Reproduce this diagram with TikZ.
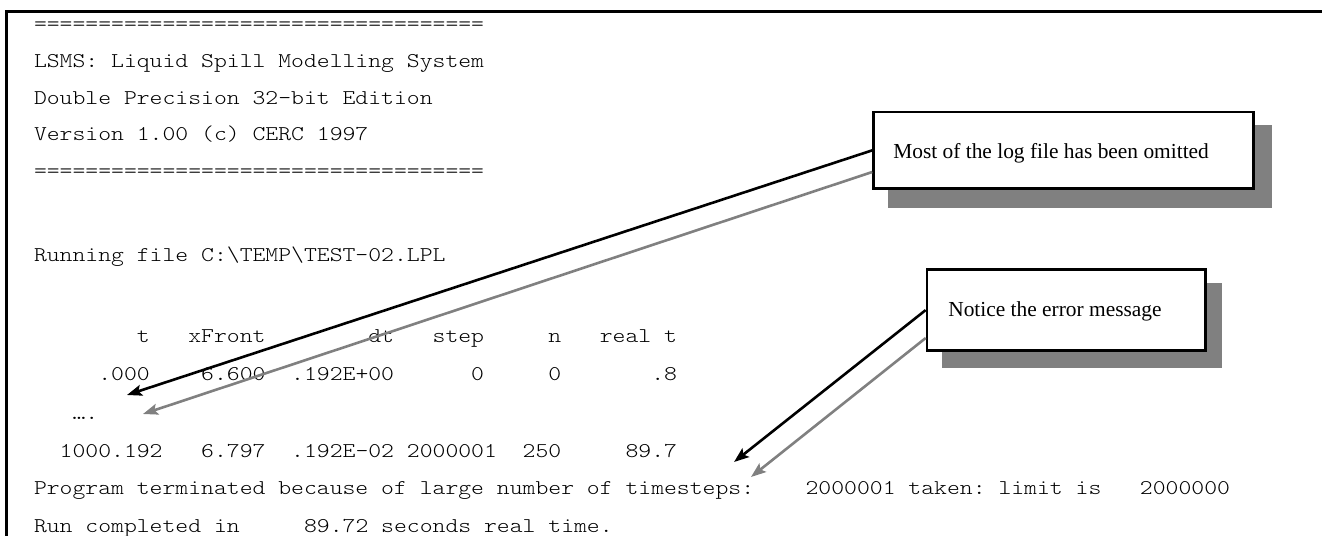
\documentclass[tikz,border=0pt]{standalone}
\usepackage{fontspec}
\setmainfont{Liberation Serif}
\newfontfamily\logmono{lmmonolt10-regular.otf}[FakeStretch=1.1664]
\usetikzlibrary{arrows.meta}
\definecolor{shadowgray}{HTML}{808080}
\definecolor{arrowgray}{HTML}{808080}
\tikzset{
  logtext/.style={anchor=base west, inner sep=0pt, outer sep=0pt,
    font={\logmono\fontsize{21bp}{25bp}\selectfont\frenchspacing}},
  notetext/.style={anchor=base west, inner sep=0pt, outer sep=0pt,
    font={\fontsize{21.4bp}{25bp}\selectfont}},
  notebox/.style={draw=black, line width=2.7bp, fill=white, inner sep=0pt},
  noteshadow/.style={fill=shadowgray, draw=none},
  frameline/.style={draw=black, line width=2.6bp},
  blackarrow/.style={draw=black, line width=2.6bp,
    -{Stealth[length=15bp,width=11bp,inset=3bp]}},
  grayarrow/.style={draw=arrowgray, line width=2.6bp,
    -{Stealth[length=15bp,width=11bp,inset=3bp]}},
}
\newcommand\cx[1]{34+#1*12.86}
\begin{document}
\begin{tikzpicture}[x=1bp,y=-1bp]
\useasboundingbox (0,0) rectangle (1322,536);
% frame
\draw[frameline] (6.5,545) -- (6.5,11.5) -- (1335,11.5);

% log text
\node[logtext] (l1) at ({\cx{0}},31) {===================================};
\node[logtext] (l2) at ({\cx{0}},68) {LSMS: Liquid Spill Modelling System};
\node[logtext] (l3) at ({\cx{0}},104.5) {Double Precision 32-bit Edition};
\node[logtext] (l4) at ({\cx{0}},141) {Version 1.00 (c) CERC 1997};
\node[logtext] (l5) at ({\cx{0}},177.5) {===================================};
\node[logtext] (l6) at ({\cx{0}},262) {Running file C:\textbackslash TEMP\textbackslash TEST-02.LPL};

% header row
\node[logtext] (h1) at ({\cx{8}},342) {t};
\node[logtext] (h2) at ({\cx{12}},342) {xFront};
\node[logtext] (h3) at ({\cx{26}},342) {dt};
\node[logtext] (h4) at ({\cx{31}},342) {step};
\node[logtext] (h5) at ({\cx{40}},342) {n};
\node[logtext] (h6) at ({\cx{44}},342) {real t};

% first data row
\node[logtext] (r1) at ({\cx{5}},380) {.000};
\node[logtext] (r2) at ({\cx{13}},380) {6.600};
\node[logtext] (r3) at ({\cx{20}},380) {.192E+00};
\node[logtext] (r4) at ({\cx{34}},380) {0};
\node[logtext] (r5) at ({\cx{40}},380) {0};
\node[logtext] (r6) at ({\cx{48}},380) {.8};

\node[logtext] (dots) at ({\cx{3}},419) {….};

% last data row
\node[logtext] (s1) at ({\cx{2}},457) {1000.192};
\node[logtext] (s2) at ({\cx{13}},457) {6.797};
\node[logtext] (s3) at ({\cx{20}},457) {.192E-02};
\node[logtext] (s4) at ({\cx{29}},457) {2000001};
\node[logtext] (s5) at ({\cx{38}},457) {250};
\node[logtext] (s6) at ({\cx{46}},457) {89.7};

\node[logtext] (p1) at ({\cx{0}},494) {Program terminated because of large number of timesteps:};
\node[logtext] (p2) at ({\cx{60}},494) {2000001 taken: limit is};
\node[logtext] (p3) at ({\cx{86}},494) {2000000};

\node[logtext] (q1) at ({\cx{0}},532) {Run completed in};
\node[logtext] (q2) at ({\cx{21}},532) {89.72 seconds real time.};

% callout shadows
\fill[noteshadow] (888,125) rectangle (1272,208);
\fill[noteshadow] (942,283) rectangle (1222,368);

% callout boxes
\node[notebox, minimum width=380.1bp, minimum height=76.7bp] (box1) at (1063.65,150.35) {};
\node[notetext] (t1) at (893.3,158.3) {Most of the log file has been omitted};
\node[notebox, minimum width=278.3bp, minimum height=81bp] (box2) at (1066.15,310.1) {};
\node[notetext] (t2) at (948.3,316.7) {Notice the error message};

% arrow end points
\coordinate (g1start) at (872.3,172);
\coordinate (b1tip) at (127,395);
\coordinate (g1tip) at (143,414);
\coordinate (g2start) at (925.7,338);
\coordinate (b2tip) at (734,462);
\coordinate (g2tip) at (751,477);

\draw[blackarrow] (box1.west) -- (b1tip);
\draw[grayarrow] (g1start) -- (g1tip);
\draw[blackarrow] (box2.west) -- (b2tip);
\draw[grayarrow] (g2start) -- (g2tip);
\end{tikzpicture}
\end{document}
